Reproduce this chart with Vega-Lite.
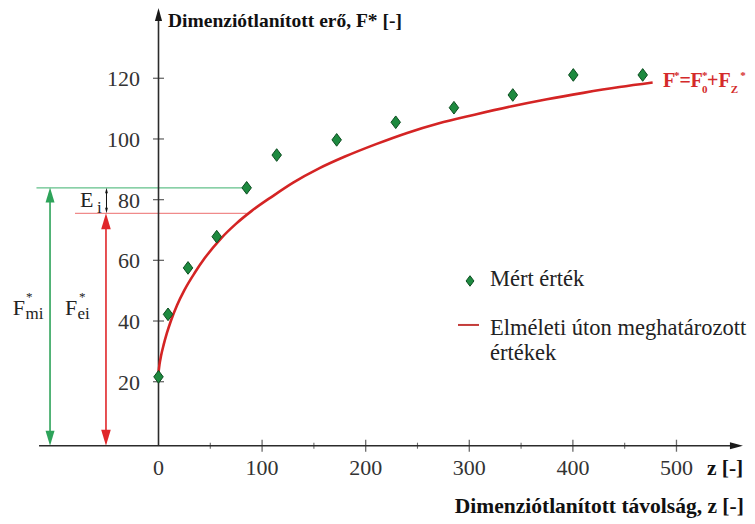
{
  "$schema": "https://vega.github.io/schema/vega-lite/v6.json",
  "width": 755,
  "height": 524,
  "autosize": {"type": "none"},
  "padding": 0,
  "background": "white",
  "config": {"view": {"stroke": null}, "font": "Liberation Serif, Times New Roman, Times, DejaVu Serif, serif", "text": {"font": "Liberation Serif, Times New Roman, Times, DejaVu Serif, serif"}},
  "datasets": {
    "measured": [
      {"z": 0, "F": 21.6}, {"z": 9.2, "F": 42.2}, {"z": 28.5, "F": 57.5}, {"z": 56.2, "F": 67.8},
      {"z": 85.1, "F": 83.9}, {"z": 114.1, "F": 94.7}, {"z": 172, "F": 99.7}, {"z": 229, "F": 105.5},
      {"z": 285.2, "F": 110.3}, {"z": 342, "F": 114.5}, {"z": 400.4, "F": 121.1}, {"z": 467.4, "F": 121.1}
    ],
    "theory": [
      {"z": 0, "F": 23}, {"z": 1, "F": 25.8}, {"z": 2.5, "F": 28.6}, {"z": 5, "F": 32.2}, {"z": 8, "F": 35.9},
      {"z": 12, "F": 40.1}, {"z": 18, "F": 45.3}, {"z": 25, "F": 50.2}, {"z": 35, "F": 55.9}, {"z": 45, "F": 60.9},
      {"z": 60, "F": 67.1}, {"z": 75, "F": 72.1}, {"z": 90, "F": 76.3}, {"z": 110, "F": 81.1}, {"z": 130, "F": 85.6},
      {"z": 155, "F": 90.3}, {"z": 180, "F": 94.2}, {"z": 210, "F": 98.3}, {"z": 240, "F": 102}, {"z": 270, "F": 105.1},
      {"z": 305, "F": 108}, {"z": 340, "F": 110.7}, {"z": 375, "F": 113.1}, {"z": 410, "F": 115.2}, {"z": 445, "F": 117.1},
      {"z": 477, "F": 118.6}
    ],
    "xticks": [
      {"z": 100, "F": -1.1}, {"z": 200, "F": -1.1}, {"z": 300, "F": -1.1}, {"z": 400, "F": -1.1}, {"z": 500, "F": -1.1}
    ],
    "xminor": [{"z": 50, "F": -1.1}, {"z": 150, "F": -1.1}, {"z": 250, "F": -1.1}, {"z": 350, "F": -1.1}, {"z": 450, "F": -1.1}],
    "xlabels": [
      {"z": 0, "F": -10.7, "t": "0"}, {"z": 100, "F": -10.7, "t": "100"}, {"z": 200, "F": -10.7, "t": "200"},
      {"z": 300, "F": -10.7, "t": "300"}, {"z": 400, "F": -10.7, "t": "400"}, {"z": 500, "F": -10.7, "t": "500"}
    ],
    "yticks": [
      {"z": 0, "F": 20}, {"z": 0, "F": 40}, {"z": 0, "F": 60}, {"z": 0, "F": 80}, {"z": 0, "F": 100}, {"z": 0, "F": 120}
    ],
    "ylabels": [
      {"z": -17.8, "F": 20, "t": "20"}, {"z": -17.8, "F": 40, "t": "40"}, {"z": -17.8, "F": 60, "t": "60"},
      {"z": -17.8, "F": 80, "t": "80"}, {"z": -17.8, "F": 100, "t": "100"}, {"z": -17.8, "F": 120, "t": "120"}
    ]
  },
  "encoding": {
    "x": {"field": "z", "type": "quantitative", "scale": {"domain": [-153, 575.8], "nice": false, "zero": false}, "axis": null},
    "y": {"field": "F", "type": "quantitative", "scale": {"domain": [-26.9, 145.8], "nice": false, "zero": false}, "axis": null}
  },
  "layer": [
    {"data": {"values": [{"z": -117.8, "z2": 85.1, "F": 83.9}]}, "mark": {"type": "rule", "color": "#62c08a", "strokeWidth": 1.2},
     "encoding": {"x2": {"field": "z2"}}},
    {"data": {"values": [{"z": -80.6, "z2": 85.1, "F": 75.5}]}, "mark": {"type": "rule", "color": "#f08a8a", "strokeWidth": 1.2},
     "encoding": {"x2": {"field": "z2"}}},
    {"data": {"values": [{"z": -104.7, "F": 2, "F2": 80}]}, "mark": {"type": "rule", "color": "#2ea35a", "strokeWidth": 1.6},
     "encoding": {"y2": {"field": "F2"}}},
    {"data": {"values": [{"z": -50.7, "F": 2, "F2": 72}]}, "mark": {"type": "rule", "color": "#e0262a", "strokeWidth": 1.6},
     "encoding": {"y2": {"field": "F2"}}},
    {"data": {"values": [{"z": -104.7, "F": 81.5}]}, "mark": {"type": "point", "shape": "M0,-1L0.6,1L-0.6,1Z", "size": 225, "filled": true, "opacity": 1, "color": "#2ea35a"},
     "encoding": {}},
    {"data": {"values": [{"z": -104.7, "F": 1.4}]}, "mark": {"type": "point", "shape": "M0,-1L0.6,1L-0.6,1Z", "size": 225, "angle": 180, "filled": true, "opacity": 1, "color": "#2ea35a"},
     "encoding": {}},
    {"data": {"values": [{"z": -50.7, "F": 72.9}]}, "mark": {"type": "point", "shape": "M0,-1L0.6,1L-0.6,1Z", "size": 256, "filled": true, "opacity": 1, "color": "#e0262a"},
     "encoding": {}},
    {"data": {"values": [{"z": -50.7, "F": 1.5}]}, "mark": {"type": "point", "shape": "M0,-1L0.6,1L-0.6,1Z", "size": 256, "angle": 180, "filled": true, "opacity": 1, "color": "#e0262a"},
     "encoding": {}},
    {"data": {"values": [{"z": -50.2, "F": 76.3, "F2": 83.2}]}, "mark": {"type": "rule", "color": "#111111", "strokeWidth": 1},
     "encoding": {"y2": {"field": "F2"}}},
    {"data": {"values": [{"z": -50.2, "F": 83.0}]}, "mark": {"type": "point", "shape": "M0,-1L0.5,1L-0.5,1Z", "size": 30, "filled": true, "opacity": 1, "color": "#111111"},
     "encoding": {}},
    {"data": {"values": [{"z": -50.2, "F": 76.4}]}, "mark": {"type": "point", "shape": "M0,-1L0.5,1L-0.5,1Z", "size": 30, "angle": 180, "filled": true, "opacity": 1, "color": "#111111"},
     "encoding": {}},
    {"data": {"values": [{"z": -115.3, "z2": 560, "F": -1.1}]}, "mark": {"type": "rule", "color": "#2b2b2b", "strokeWidth": 1.6},
     "encoding": {"x2": {"field": "z2"}}},
    {"data": {"values": [{"z": 0, "F": -1.1, "F2": 140}]}, "mark": {"type": "rule", "color": "#2b2b2b", "strokeWidth": 1.6},
     "encoding": {"y2": {"field": "F2"}}},
    {"data": {"values": [{"z": 0, "F": 141.0}]}, "mark": {"type": "point", "shape": "M0,-1L0.55,1L-0.55,1Z", "size": 169, "filled": true, "opacity": 1, "color": "#1a1a1a"},
     "encoding": {}},
    {"data": {"values": [{"z": 557.9, "F": -1.1}]}, "mark": {"type": "point", "shape": "M0,-1L0.55,1L-0.55,1Z", "size": 169, "angle": 90, "filled": true, "opacity": 1, "color": "#1a1a1a"},
     "encoding": {}},
    {"data": {"name": "xticks"},
     "mark": {"type": "tick", "orient": "vertical", "size": 12, "thickness": 1.3, "color": "#2b2b2b"},
     "encoding": {}},
    {"data": {"name": "xminor"},
     "mark": {"type": "tick", "orient": "vertical", "size": 6, "thickness": 1.1, "color": "#2b2b2b"},
     "encoding": {}},
    {"data": {"name": "yticks"},
     "mark": {"type": "tick", "orient": "horizontal", "size": 11, "thickness": 1.3, "color": "#2b2b2b"},
     "encoding": {}},
    {"data": {"name": "xlabels"},
     "mark": {"type": "text", "align": "center", "baseline": "alphabetic", "fontSize": 22, "color": "#333333"},
     "encoding": {"text": {"field": "t"}}},
    {"data": {"name": "ylabels"},
     "mark": {"type": "text", "align": "right", "baseline": "middle", "dy": 1, "fontSize": 22, "color": "#333333"},
     "encoding": {"text": {"field": "t"}}},
    {"data": {"name": "theory"},
     "mark": {"type": "line", "color": "#d42424", "strokeWidth": 2.6, "interpolate": "monotone"},
     "encoding": {}},
    {"data": {"name": "measured"},
     "mark": {"type": "point", "shape": "M0,-1L0.75,0L0,1L-0.75,0Z", "size": 160, "filled": true, "opacity": 1, "fill": "#1d8a3f", "stroke": "#0c4d20", "strokeWidth": 1},
     "encoding": {}},
    {"data": {"values": [{"z": 300.7, "F": 53.2}]},
     "mark": {"type": "point", "shape": "M0,-1L0.75,0L0,1L-0.75,0Z", "size": 110, "filled": true, "opacity": 1, "fill": "#1d8a3f", "stroke": "#0c4d20", "strokeWidth": 1},
     "encoding": {}},
    {"data": {"values": [{"z": 289.1, "z2": 309.4, "F": 38.7}]}, "mark": {"type": "rule", "color": "#c43c3a", "strokeWidth": 2},
     "encoding": {"x2": {"field": "z2"}}},
    {"data": {"values": [
       {"t": "Mért érték", "z": 320, "F": 51.5},
       {"t": "Elméleti úton meghatározott", "z": 320, "F": 35.4},
       {"t": "értékek", "z": 320, "F": 27.2}
     ]},
     "mark": {"type": "text", "align": "left", "baseline": "alphabetic", "fontSize": 22.5, "color": "#222222"},
     "encoding": {"text": {"field": "t"}}},
    {"data": {"values": [
       {"t": "F", "z": -140.7, "F": 42.0},
       {"t": "F", "z": -90.3, "F": 42.0},
       {"t": "E", "z": -75.8, "F": 77.5}
     ]},
     "mark": {"type": "text", "align": "left", "baseline": "alphabetic", "fontSize": 22, "color": "#222222"},
     "encoding": {"text": {"field": "t"}}},
    {"data": {"values": [
       {"t": "mi", "z": -128.4, "F": 40.7},
       {"t": "ei", "z": -78.2, "F": 40.7},
       {"t": "i", "z": -59.3, "F": 75.6}
     ]},
     "mark": {"type": "text", "align": "left", "baseline": "alphabetic", "fontSize": 17, "color": "#222222"},
     "encoding": {"text": {"field": "t"}}},
    {"data": {"values": [
       {"t": "*", "z": -127.9, "F": 46.6},
       {"t": "*", "z": -76.7, "F": 46.6}
     ]},
     "mark": {"type": "text", "align": "left", "baseline": "alphabetic", "fontSize": 13, "color": "#222222"},
     "encoding": {"text": {"field": "t"}}},
    {"data": {"values": [{"t": "Dimenziótlanított erő, F* [-]", "z": 9.2, "F": 136.9}]},
     "mark": {"type": "text", "align": "left", "baseline": "alphabetic", "fontSize": 19.5, "fontWeight": "bold", "color": "#111111"},
     "encoding": {"text": {"field": "t"}}},
    {"data": {"values": [
       {"t": "Dimenziótlanított távolság, z [-]", "z": 565, "F": -23.3},
       {"t": "z [-]", "z": 564.5, "F": -10.7}
     ]},
     "mark": {"type": "text", "align": "right", "baseline": "alphabetic", "fontSize": 21.5, "fontWeight": "bold", "color": "#111111"},
     "encoding": {"text": {"field": "t"}}},
    {"data": {"values": [
       {"t": "F", "z": 487, "F": 117.1},
       {"t": "=", "z": 502.9, "F": 117.1},
       {"t": "F", "z": 513.5, "F": 117.1},
       {"t": "+", "z": 529.5, "F": 117.1},
       {"t": "F", "z": 540.5, "F": 117.1}
     ]},
     "mark": {"type": "text", "align": "left", "baseline": "alphabetic", "fontSize": 20, "fontWeight": "bold", "color": "#d42a2a"},
     "encoding": {"text": {"field": "t"}}},
    {"data": {"values": [
       {"t": "*", "z": 497.6, "F": 119.8},
       {"t": "*", "z": 524.6, "F": 119.8},
       {"t": "*", "z": 561.5, "F": 119.8},
       {"t": "0", "z": 524.6, "F": 115.0},
       {"t": "Z", "z": 552.5, "F": 115.0}
     ]},
     "mark": {"type": "text", "align": "left", "baseline": "alphabetic", "fontSize": 11, "fontWeight": "bold", "color": "#d42a2a"},
     "encoding": {"text": {"field": "t"}}}
  ]
}
